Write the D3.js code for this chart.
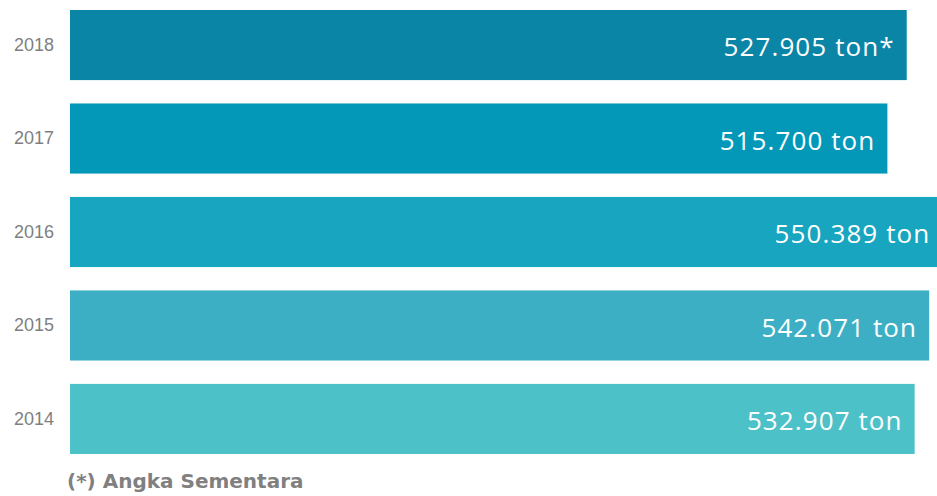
<!DOCTYPE html>
<html>
<head>
<meta charset="utf-8">
<script src="https://cdn.jsdelivr.net/npm/d3@7"></script>
<style>
  html, body { margin: 0; padding: 0; background: #ffffff; }
  svg { display: block; }
</style>
</head>
<body>
<svg id="chart" width="937" height="496"></svg>
<script>
// Production per year (ton), top to bottom
const years = ["2018", "2017", "2016", "2015", "2014"];
const production = [527905, 515700, 550389, 542071, 532907];
const marks = ["*", "", "", "", ""];           // * = provisional figure
const barColors = ["#0a85a6", "#0398b8", "#17a5bf", "#3dafc5", "#4dc1c8"];
const footnote = "(*) Angka Sementara";

const svg = d3.select("#chart");

const x = d3.scaleLinear().domain([0, 600000]).range([70, 1021]);
const y = d3.scaleBand().domain(years).range([10, 454]).paddingInner(0.25).paddingOuter(0);

const idLocale = d3.formatLocale({ decimal: ",", thousands: ".", grouping: [3], currency: ["Rp", ""] });
const fmt = idLocale.format(",d");

const rows = years.map((yr, i) => ({ year: yr, value: production[i], mark: marks[i], color: barColors[i] }));

// bars
svg.append("g").selectAll("rect")
  .data(rows)
  .join("rect")
  .attr("x", x(0))
  .attr("y", d => y(d.year))
  .attr("width", d => x(d.value) - x(0))
  .attr("height", y.bandwidth())
  .attr("fill", d => d.color);

// value labels inside the bar ends
svg.append("g").selectAll("text")
  .data(rows)
  .join("text")
  .attr("x", d => x(d.value) - 12)
  .attr("y", d => y(d.year) + y.bandwidth() / 2)
  .attr("dy", "0.44em")
  .attr("text-anchor", "end")
  .attr("fill", "#ffffff")
  .style("font-family", "'Open Sans', sans-serif")
  .style("font-size", "26px")
  .style("letter-spacing", "1.1px")
  .text(d => fmt(d.value) + " ton" + d.mark);

// year axis
const yAxis = d3.axisLeft(y).tickSize(0).tickPadding(0);
const ag = svg.append("g").attr("transform", "translate(54,0)").call(yAxis);
ag.select(".domain").remove();
ag.selectAll("text")
  .attr("fill", "#7f7f7f")
  .style("font-family", "'Liberation Sans', Arial, sans-serif")
  .style("font-size", "18px");

// footnote
svg.append("text")
  .attr("x", 67)
  .attr("y", 488)
  .attr("fill", "#808080")
  .style("font-family", "'Century Gothic', 'DejaVu Sans', sans-serif")
  .style("font-weight", "bold")
  .style("font-size", "20px")
  .text(footnote);
</script>
</body>
</html>
